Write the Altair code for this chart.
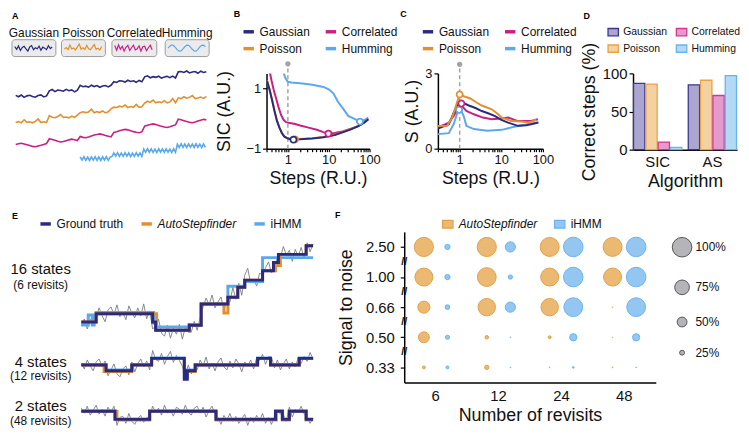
import altair as alt
import pandas as pd

FONT = "Liberation Sans"
NAVY = "#2b2a7f"
ORANGE = "#e2902e"
MAGENTA = "#cb1f85"
LBLUE = "#5aa8ee"
NOISE_GRAY = "#7c7c7c"
DASH_GRAY = "#a3a3a3"

SERIES = ["Gaussian", "Poisson", "Correlated", "Humming"]
SERIES_COLORS = [NAVY, ORANGE, MAGENTA, LBLUE]


def letter(ch, dx, dy):
    """Panel letter drawn as a text mark, offset in pixels from the plot origin."""
    return alt.Chart(pd.DataFrame({"letter": [ch]})).mark_text(
        fontSize=9, fontWeight="bold", align="left", baseline="middle", color="#000000"
    ).encode(text="letter:N", x=alt.value(dx), y=alt.value(dy))


# ---------------- Panel A : example traces ----------------
a_edges = [7, 41, 76, 110, 144, 179, 213]
a_gauss_levels = [70, 75.7, 80, 85, 89.3, 94.3]
a_pois_levels = [44, 49, 54, 59.3, 64, 68.3]
a_corr_levels = [20.7, 25, 30, 35, 40, 45]
a_humm_levels = [7, 11, 15, 20]
a_gauss_noise = [0.8, -0.6, 1.1, -1.2, 0.3, 0.9, -0.4, -1.0, 0.6, 1.3,
                 -0.8, 0.2, -0.3, 1.0, -1.1, 0.5, 0.0, -0.7, 1.2, -0.2,
                 0.6, -1.3, 0.4, 0.9, -0.5, 0.1, -0.9, 1.1, -0.3, 0.7,
                 -1.0, 0.2, 0.8, -0.6, 1.0, -0.4, -1.2, 0.5, 0.3, -0.8,
                 1.1, -0.1, 0.6, -1.0, 0.9, -0.5, 0.2, 1.2, -0.7, 0.4,
                 -0.3, 0.8, -1.1, 0.0, 0.7, -0.6, 1.0, -0.9, 0.3, 0.5,
                 -0.4, 1.1, -0.8, 0.2, 0.6, -1.2, 0.9, -0.3, 0.4]
a_pois_noise = [-0.5, 0.3, -0.8, 2.2, -0.4, 0.1, -0.9, 0.6, 3.0, -0.6,
                0.2, -0.7, 1.4, -0.3, -0.8, 0.5, 2.5, -0.5, 0.0, -0.9,
                0.8, -0.4, 1.9, -0.7, 0.3, -0.6, 0.1, 2.8, -0.8, 0.4,
                -0.5, 1.2, -0.9, 0.2, 3.2, -0.4, -0.7, 0.6, -0.2, 1.7,
                -0.8, 0.3, -0.5, 2.4, -0.6, 0.1, -0.9, 0.9, -0.3, 2.0,
                -0.7, 0.4, -0.5, 1.5, -0.8, 0.2, 3.5, -0.6, 0.0, -0.9,
                1.1, -0.4, 0.5, 2.3, -0.7, -0.2, 0.8, -0.5, 1.6]
a_corr_noise = [0.5, 1.2, 1.8, 1.0, 0.2, -0.6, -1.4, -1.8, -1.0, -0.3,
                0.6, 1.5, 2.0, 1.3, 0.4, -0.5, -1.2, -0.8, 0.1, 0.9,
                1.6, 1.1, 0.2, -0.7, -1.6, -2.0, -1.2, -0.2, 0.7, 1.4,
                1.9, 1.2, 0.3, -0.4, -1.1, -1.7, -1.0, 0.0, 0.8, 1.5,
                1.0, 0.1, -0.8, -1.5, -1.9, -1.1, -0.3, 0.6, 1.3, 2.0,
                1.4, 0.5, -0.4, -1.2, -1.6, -0.9, 0.1, 1.0, 1.7, 1.2,
                0.3, -0.6, -1.3, -1.8, -1.0, -0.1, 0.8, 1.6, 1.1]
a_humm_noise = [1.8, -1.6, 1.9, -1.8, 1.5, -1.9, 1.7, -1.5, 2.0, -1.7,
                1.6, -1.9, 1.8, -1.6, 1.9, -1.8, 1.5, -2.0, 1.7, -1.6,
                1.9, -1.7, 1.6, -1.8, 2.0, -1.5, 1.8, -1.9, 1.6, -1.7,
                1.9, -1.6, 1.7, -1.9, 1.5, -1.8, 2.0, -1.6, 1.8, -1.7,
                1.6, -1.9, 1.9, -1.5, 1.7, -1.8, 1.8, -1.6, 1.5, -2.0,
                1.9, -1.7, 1.6, -1.8, 2.0, -1.6, 1.7, -1.9, 1.8, -1.5,
                1.6, -1.8, 1.9, -1.7, 1.5, -1.9, 1.8, -1.6]
# small legend boxes above the traces (panel-A coordinates)
a_box_x0 = [3, 56, 110, 167]
a_box_x1 = [50, 103, 158, 214]
a_box_top = [127, 127, 127, 127]
a_box_bottom = [110, 110, 110, 110]
a_box_label_y = [134, 134, 134, 134]
a_box_mid = [118.5, 118.5, 118.5, 118.5]
a_box_noise = {
    "Gaussian": [1.5, -1.2, 2.2, -2.4, 0.6, 1.8, -0.8, -3.0, 1.2, 2.6, -1.6,
                 0.4, -0.6, 2.0, -2.2, 1.0, 0.0, -1.4, 2.4, -0.4, 1.2],
    "Poisson": [-1.0, 0.6, -1.6, 3.2, -0.8, 0.2, -1.8, 1.2, 4.0, -1.2, 0.4,
                -1.4, 2.8, -0.6, -1.6, 1.0, 3.6, -1.0, 0.0, -1.8, 1.6],
    "Correlated": [2.6, -2.2, 3.2, -1.2, 1.8, -3.0, 0.8, 2.8, -2.4, 0.4, 3.0,
                   -1.8, -0.6, 2.4, -3.0, 1.4, 2.0, -2.6, 0.4, 3.0, -1.6],
    "Humming": [0.0, 2.0, 3.2, 2.6, 0.4, -1.8, -3.0, -2.8, -0.8, 1.4, 3.0,
                2.8, 1.0, -1.2, -2.8, -3.0, -1.2, 1.2, 2.8, 3.0, 1.2],
}


def a_trace(name, levels, first_seg, noise, x0, dx):
    rows = []
    for i, n in enumerate(noise):
        x = x0 + dx * i
        k = first_seg
        while k < len(a_edges) - 2 and x >= a_edges[k + 1]:
            k += 1
        rows.append({"series": name, "x": x, "y": levels[k - first_seg] + n, "i": i})
    return rows


a_rows = (a_trace("Humming", a_humm_levels, 2, a_humm_noise, 76, 2)
          + a_trace("Correlated", a_corr_levels, 0, a_corr_noise, 7, 3)
          + a_trace("Poisson", a_pois_levels, 0, a_pois_noise, 7, 3)
          + a_trace("Gaussian", a_gauss_levels, 0, a_gauss_noise, 7, 3))
a_df = pd.DataFrame(a_rows)

box_df = pd.DataFrame({"series": SERIES, "x0": a_box_x0, "x1": a_box_x1,
                       "top": a_box_top, "bottom": a_box_bottom,
                       "ly": a_box_label_y,
                       "cx": [(a + b) / 2 for a, b in zip(a_box_x0, a_box_x1)]})
box_rows = []
for s, x0, mid in zip(SERIES, a_box_x0, a_box_mid):
    for i, v in enumerate(a_box_noise[s]):
        box_rows.append({"series": s, "x": x0 + 3 + 2 * i, "y": mid + v, "i": i})
box_trace_df = pd.DataFrame(box_rows)

A_XS = alt.Scale(domain=[3, 215], nice=False, zero=False)
A_YS = alt.Scale(domain=[7, 93], nice=False, zero=False)
ax = alt.X("x:Q", scale=A_XS, axis=None)
ay = alt.Y("y:Q", scale=A_YS, axis=None)
a_stroke = alt.Stroke("series:N", scale=alt.Scale(domain=SERIES, range=SERIES_COLORS), legend=None)

a_main = alt.Chart(a_df).mark_line(strokeWidth=1.6, clip=False).encode(
    x=ax, y=ay, stroke=a_stroke, detail="series:N", order="i:Q")
a_rect = alt.Chart(box_df).mark_rect(fill="#ebebeb", stroke="#9b9b9b", strokeWidth=1,
                                     cornerRadius=3, clip=False).encode(
    x=alt.X("x0:Q", scale=A_XS, axis=None), x2="x1:Q",
    y=alt.Y("bottom:Q", scale=A_YS, axis=None), y2="top:Q")
a_mini = alt.Chart(box_trace_df).mark_line(strokeWidth=1.2, clip=False).encode(
    x=ax, y=ay, stroke=a_stroke, detail="series:N", order="i:Q")
a_lab = alt.Chart(box_df).mark_text(fontSize=12, align="center", baseline="middle",
                                    color="#111111").encode(
    x=alt.X("cx:Q", scale=A_XS, axis=None),
    y=alt.Y("ly:Q", scale=A_YS, axis=None),
    text="series:N")
panel_a = alt.layer(a_rect, a_mini, a_lab, a_main, letter("A", 0, -58)).properties(
    width=200, height=86)

# ---------------- Panel B : SIC ----------------
b_gauss_x = [0.31, 0.36, 0.41, 0.47, 0.54, 0.62, 0.71, 0.82, 0.95, 1.1, 1.37, 2, 4, 7.4, 14, 22.7, 35, 53, 75, 93]
b_gauss_y = [1.24, 0.93, 0.61, 0.25, -0.08, -0.3, -0.48, -0.6, -0.65, -0.68, -0.7, -0.69, -0.66, -0.62, -0.55, -0.45, -0.36, -0.25, -0.13, -0.02]
b_pois_x = [0.31, 0.36, 0.41, 0.47, 0.54, 0.62, 0.71, 0.82, 0.95, 1.1, 1.5, 2, 4, 7.4, 14, 22.7, 35, 53, 75, 93]
b_pois_y = [1.26, 0.95, 0.63, 0.27, -0.06, -0.29, -0.47, -0.59, -0.64, -0.67, -0.69, -0.68, -0.65, -0.61, -0.54, -0.44, -0.35, -0.24, -0.12, -0.01]
b_corr_x = [0.36, 0.4, 0.45, 0.52, 0.59, 0.68, 0.79, 0.9, 1.04, 1.5, 2.0, 3.2, 5.1, 7.4, 9.8, 14, 22.7, 35, 53, 75, 93]
b_corr_y = [1.55, 1.25, 0.95, 0.65, 0.38, 0.12, -0.05, -0.12, -0.14, -0.18, -0.23, -0.3, -0.37, -0.45, -0.5, -0.48, -0.42, -0.34, -0.25, -0.13, -0.02]
b_humm_x = [0.79, 0.88, 1.0, 1.2, 2, 4, 7.4, 10, 13, 17, 22.7, 30, 44, 58, 75, 93]
b_humm_y = [1.5, 1.33, 1.22, 1.2, 1.17, 1.12, 1.05, 0.97, 0.84, 0.55, 0.32, 0.09, -0.02, -0.1, -0.05, 0.03]
b_mark_series = ["Poisson", "Gaussian", "Correlated", "Humming"]
b_mark_x = [1.5, 1.37, 9.8, 58]
b_mark_y = [-0.69, -0.7, -0.5, -0.1]
b_guide_x = [1]
b_guide_bottom = [-1]
b_guide_top = [1.82]

# ---------------- Panel C : S ----------------
c_gauss_x = [0.3, 0.55, 0.72, 0.9, 1.1, 1.6, 2.4, 3.4, 5, 7.1, 10, 14.6, 25, 40, 52, 76]
c_gauss_y = [0.8, 0.97, 1.43, 1.75, 1.86, 1.73, 1.62, 1.5, 1.4, 1.3, 1.15, 1.04, 0.91, 0.93, 0.97, 1.04]
c_pois_x = [0.3, 0.5, 0.66, 0.86, 1.0, 1.25, 1.8, 2.5, 3.4, 5.9, 8, 10.2, 17.6, 30, 44, 60, 69]
c_pois_y = [0.9, 0.91, 1.24, 1.83, 2.16, 2.09, 2.0, 1.85, 1.72, 1.57, 1.4, 1.24, 1.1, 1.08, 1.04, 1.1, 1.17]
c_corr_x = [0.3, 0.55, 0.72, 0.9, 1.05, 1.2, 1.45, 2.2, 3.6, 5.9, 10, 14.6, 25, 52, 76]
c_corr_y = [0.85, 1.04, 1.3, 1.6, 1.8, 1.65, 1.5, 1.37, 1.24, 1.17, 1.2, 1.24, 1.1, 1.1, 1.17]
c_humm_x = [0.3, 0.55, 0.72, 0.85, 0.97, 1.1, 1.25, 1.45, 2.2, 4.6, 10.2, 22, 44, 80]
c_humm_y = [0.58, 0.62, 0.98, 1.35, 1.57, 1.5, 1.3, 0.91, 0.78, 0.71, 0.75, 0.88, 0.97, 1.04]
c_mark_series = ["Humming", "Correlated", "Poisson"]
c_mark_x = [0.97, 1.1, 1.0]
c_mark_y = [1.55, 1.8, 2.16]
c_guide_x = [1]
c_guide_bottom = [0]
c_guide_top = [3.36]

LOG_TICKS = [0.3, 0.4, 0.5, 0.6, 0.7, 0.8, 0.9, 1, 2, 3, 4, 5, 6, 7, 8, 9,
             10, 20, 30, 40, 50, 60, 70, 80, 90, 100]


def curve_df(spec):
    rows = []
    for name, xs, ys in spec:
        for x, y in zip(xs, ys):
            rows.append({"series": name, "x": x, "y": y})
    return pd.DataFrame(rows)


def curve_panel(letter_ch, letter_dx, spec, mk_series, mk_x, mk_y, g_x, g_bot, g_top,
                ydomain, yvalues, ytitle, width, legend_x, ytitle_pad):
    df = curve_df(spec)
    xenc = alt.X("x:Q", scale=alt.Scale(type="log", domain=[0.3, 100], nice=False),
                 axis=alt.Axis(values=LOG_TICKS, title="Steps (R.U.)",
                               labelExpr="(datum.value == 1 || datum.value == 10 || datum.value == 100) ? datum.label : ''",
                               labelFontSize=13, titleFontSize=18, tickSize=3,
                               labelPadding=2, titlePadding=3, labelFlush=False))
    yenc = alt.Y("y:Q", scale=alt.Scale(domain=ydomain, nice=False),
                 axis=alt.Axis(values=yvalues, title=ytitle, labelFontSize=13,
                               titleFontSize=18, tickSize=4, labelPadding=2,
                               titlePadding=ytitle_pad))
    sscale = alt.Scale(domain=SERIES, range=SERIES_COLORS)
    legend = alt.Legend(title=None, orient="none", legendX=legend_x, legendY=-49,
                        columns=2, columnPadding=8, rowPadding=3,
                        symbolType="stroke", symbolStrokeWidth=3.5, symbolSize=110,
                        labelFontSize=12, labelOffset=4)
    guide_df = pd.DataFrame({"x": g_x, "y": g_bot, "y2": g_top})
    rule = alt.Chart(guide_df).mark_rule(strokeDash=[4, 3], color=DASH_GRAY,
                                         strokeWidth=1.5, clip=False).encode(
        x=xenc, y=yenc, y2="y2:Q")
    dot = alt.Chart(guide_df).mark_circle(size=28, color=DASH_GRAY, opacity=1,
                                          clip=False).encode(x=xenc, y="y2:Q")
    lines = alt.Chart(df).mark_line(strokeWidth=2, clip=True).encode(
        x=xenc, y=yenc,
        stroke=alt.Stroke("series:N", scale=sscale, legend=legend))
    mk_df = pd.DataFrame({"series": mk_series, "x": mk_x, "y": mk_y})
    pts = alt.Chart(mk_df).mark_point(shape="circle", fill="white", fillOpacity=1,
                                      opacity=1, strokeWidth=1.8, size=38).encode(
        x=xenc, y=yenc,
        stroke=alt.Stroke("series:N", scale=sscale, legend=None))
    return alt.layer(rule, dot, lines, pts, letter(letter_ch, letter_dx, -60)).properties(
        width=width, height=76)


panel_b = curve_panel(
    "B", -33,
    [("Humming", b_humm_x, b_humm_y), ("Correlated", b_corr_x, b_corr_y),
     ("Poisson", b_pois_x, b_pois_y), ("Gaussian", b_gauss_x, b_gauss_y)],
    b_mark_series, b_mark_x, b_mark_y, b_guide_x, b_guide_bottom, b_guide_top,
    [-1, 1.5], [-1, 0, 1], "SIC (A.U.)", 104, -25, 13)

panel_c = curve_panel(
    "C", -38,
    [("Humming", c_humm_x, c_humm_y), ("Correlated", c_corr_x, c_corr_y),
     ("Gaussian", c_gauss_x, c_gauss_y), ("Poisson", c_pois_x, c_pois_y)],
    c_mark_series, c_mark_x, c_mark_y, c_guide_x, c_guide_bottom, c_guide_top,
    [0, 3], [0, 1, 2, 3], "S (A.U.)", 106, -17, 3)

# ---------------- Panel D : correct steps ----------------
d_algs = ["SIC", "AS"]
d_sic = [87, 86, 10, 3]
d_as = [85, 91, 71, 97]
D_FILL = ["#aaa6d0", "#f3d2a0", "#e49bcb", "#b2daf4"]      # SERIES order
D_STROKE = ["#3c378f", "#e9a24a", "#d2368f", "#68b2ee"]    # SERIES order

d_rows = []
for alg, vals in zip(d_algs, [d_sic, d_as]):
    for s, v in zip(SERIES, vals):
        d_rows.append({"alg": alg, "series": s, "value": v})
d_df = pd.DataFrame(d_rows)
d_legend = alt.Legend(title=None, orient="none", legendX=-26, legendY=-48,
                      columns=2, columnPadding=6, rowPadding=3,
                      symbolType="M -1 -0.7 H 1 V 0.7 H -1 Z", symbolSize=110,
                      symbolStrokeWidth=1.3, labelFontSize=10.5, labelOffset=4)
d_bars = alt.Chart(d_df).mark_bar(strokeWidth=1.3).encode(
    x=alt.X("alg:N", sort=d_algs, scale=alt.Scale(paddingInner=0.1, paddingOuter=0),
            axis=alt.Axis(title="Algorithm", labelAngle=0, ticks=False, labelFontSize=15,
                          titleFontSize=18, labelPadding=5, titlePadding=3)),
    xOffset=alt.XOffset("series:N", sort=SERIES,
                        scale=alt.Scale(paddingInner=0.08, paddingOuter=0.04)),
    y=alt.Y("value:Q", scale=alt.Scale(domain=[0, 100], nice=False),
            axis=alt.Axis(values=[0, 50, 100], title="Correct steps (%)", labelFontSize=15,
                          titleFontSize=18, tickSize=4, labelPadding=2, titlePadding=4)),
    fill=alt.Fill("series:N", scale=alt.Scale(domain=SERIES, range=D_FILL), legend=d_legend),
    stroke=alt.Stroke("series:N", scale=alt.Scale(domain=SERIES, range=D_STROKE), legend=d_legend),
)
panel_d = alt.layer(d_bars, letter("D", -50, -58)).properties(width=105, height=77)

# ---------------- Panel E : example fits ----------------
E_METHODS = ["Ground truth", "AutoStepfinder", "iHMM"]
E_COLORS = [NAVY, ORANGE, LBLUE]
e_start_t = -70
e_end_t = 234

e_top_gt_t = [0, 15, 72, 75, 109, 121, 148, 158, 165, 183, 194, 199, 227]
e_top_gt_y = [115, 123.3, 115, 106.7, 111.7, 133.3, 140, 150, 157.3, 166.7, 175, 183.3, 192]
e_top_as_t = [0, 15, 76, 109, 121, 144, 148, 158, 165, 183, 196, 201, 227]
e_top_as_y = [115, 123.3, 106.7, 111.7, 133.3, 124, 140, 150, 157.3, 166.7, 172, 183.3, 192]
e_top_hmm_t = [0, 7, 11, 13, 15, 73, 76, 109, 121, 148, 165, 183]
e_top_hmm_y = [112, 122, 112, 122, 124.5, 114, 110, 112.5, 133.3, 151, 156, 180]

e_mid_gt_t = [0, 25, 51, 71, 104, 107, 115, 178, 191, 220]
e_mid_gt_y = [71.7, 65.7, 71.7, 78.3, 57.3, 65.7, 71.7, 78.3, 71.7, 78.3]
e_mid_as_t = [0, 23, 51, 71, 104, 115, 178, 191, 220]
e_mid_as_y = [71.7, 65.0, 71.7, 78.3, 65.0, 71.7, 78.3, 71.7, 78.3]
e_mid_hmm_t = [0, 25, 51, 71, 104, 107, 115, 178, 191, 220]
e_mid_hmm_y = [72.2, 66.5, 72.2, 78.8, 59.0, 66.5, 72.2, 78.8, 72.2, 78.8]

e_bot_gt_t = [0, 34, 69, 136, 196, 203, 210, 227]
e_bot_gt_y = [25, 16.7, 25, 16.7, 25, 16.7, 25, 16.7]
e_bot_as_t = [0, 36, 69, 136, 197, 203, 210, 227]
e_bot_as_y = [25, 16.0, 25, 16.0, 25, 16.0, 25, 16.0]
e_bot_hmm_t = [0, 34, 69, 136, 196, 203, 210, 227]
e_bot_hmm_y = [25.3, 17.2, 25.3, 17.2, 25.3, 17.2, 25.3, 17.2]

e_top_noise = [-4, 3, -7, 2, 5, -3, 6, -2, -8, 4,
               7, -1, 9, -3, 2, -6, 8, 1, -4, 6,
               -2, 10, -5, 3, -7, 4, 11, -3, -6, 5,
               -8, 2, -4, 6, -9, 3, -2, -7, 4, -5,
               8, -3, 6, -1, 9, -4, 2, 7, -6, 3,
               -5, 10, -2, 4, -8, 5, 12, -3, 1, -6,
               7, -4, 3, 9, -2, -5, 6, -3, 8, -1,
               4, -7, 5, -2, 7, -4, 3, -6, 2]
e_mid_noise = [2, -4, 5, -1, -6, 3, 6, -2, 4, -5,
               1, 7, -3, -6, 2, 5, -4, 3, -7, 1,
               6, -2, 4, -5, 8, -1, -3, 5, -6, 2,
               7, -4, 3, -2, -8, 4, 6, -3, 1, -5,
               5, -1, 8, -4, 2, -6, 3, 7, -2, -5,
               4, -3, 6, 1, -7, 3, -1, 5, -4, 7,
               -2, 4, -6, 2, 8, -3, 5, -5, 1, 6,
               -4, 3, -2, 7, -5, 2, -3, 6, -1]
e_bot_noise = [3, -2, 5, -4, 1, 6, -3, 2, -5, 4,
               -1, 5, -6, 2, 3, -4, 6, -2, -5, 1,
               4, -3, 2, -6, 5, -1, 3, -4, 6, -2,
               1, -5, 4, 2, -3, 6, -1, -4, 3, 5,
               -2, 4, -6, 1, 5, -3, 2, -5, 4, -1,
               6, -2, 3, -4, 1, 5, -6, 2, -3, 4,
               -1, 6, -4, 2, -5, 3, 1, -3, 5, -2,
               4, -6, 2, -1, 5, -3, 3, -4, 1]

e_state_labels = ["16 states", "4 states", "2 states"]
e_state_y = [168, 75, 30]
e_revisit_labels = ["(6 revisits)", "(12 revisits)", "(48 revisits)"]
e_revisit_y = [152.5, 60, 15]
e_label_t = [-41, -41, -41]


def seg_level(ts, ys, t):
    lvl = ys[0]
    for s, y in zip(ts, ys):
        if t >= s:
            lvl = y
    return lvl


e_traces = [
    ("top", (e_top_gt_t, e_top_gt_y), (e_top_as_t, e_top_as_y), (e_top_hmm_t, e_top_hmm_y), e_top_noise),
    ("mid", (e_mid_gt_t, e_mid_gt_y), (e_mid_as_t, e_mid_as_y), (e_mid_hmm_t, e_mid_hmm_y), e_mid_noise),
    ("bot", (e_bot_gt_t, e_bot_gt_y), (e_bot_as_t, e_bot_as_y), (e_bot_hmm_t, e_bot_hmm_y), e_bot_noise),
]
noise_rows, step_rows = [], []
for name, gt, asf, hmm, noise in e_traces:
    for i, n in enumerate(noise):
        t = 3 * i
        noise_rows.append({"trace": name, "t": t, "y": seg_level(gt[0], gt[1], t) + n})
for method, idx in [("iHMM", 3), ("AutoStepfinder", 2), ("Ground truth", 1)]:
    for tr in e_traces:
        ts, ys = tr[idx]
        key = tr[0] + "_" + method
        for t, y in zip(ts, ys):
            step_rows.append({"key": key, "method": method, "t": t, "y": y})
        step_rows.append({"key": key, "method": method, "t": e_end_t, "y": ys[-1]})

ex = alt.X("t:Q", scale=alt.Scale(domain=[e_start_t, e_end_t], nice=False, zero=False), axis=None)
ey = alt.Y("y:Q", scale=alt.Scale(domain=[14, 206], nice=False, zero=False), axis=None)
e_noise = alt.Chart(pd.DataFrame(noise_rows)).mark_line(
    color=NOISE_GRAY, strokeWidth=0.9, clip=False).encode(x=ex, y=ey, detail="trace:N")
e_legend = alt.Legend(title=None, orient="none", legendX=27, legendY=-15,
                      direction="horizontal", columnPadding=10,
                      symbolType="stroke", symbolStrokeWidth=3.5, symbolSize=110,
                      labelFontSize=12, labelOffset=4,
                      labelFontStyle=alt.ExprRef("datum.label == 'AutoStepfinder' ? 'italic' : 'normal'"))
e_steps = alt.Chart(pd.DataFrame(step_rows)).mark_line(
    interpolate="step-after", strokeWidth=3, clip=False).encode(
    x=ex, y=ey,
    stroke=alt.Stroke("method:N", scale=alt.Scale(domain=E_METHODS, range=E_COLORS), legend=e_legend),
    detail="key:N")
e_lab1 = alt.Chart(pd.DataFrame({"label": e_state_labels, "y": e_state_y, "t": e_label_t})).mark_text(
    fontSize=15, align="center", baseline="middle", color="#111").encode(
    x=ex, y=ey, text="label:N")
e_lab2 = alt.Chart(pd.DataFrame({"label": e_revisit_labels, "y": e_revisit_y, "t": e_label_t})).mark_text(
    fontSize=12, align="center", baseline="middle", color="#111").encode(
    x=ex, y=ey, text="label:N")
panel_e = alt.layer(e_noise, e_steps, e_lab1, e_lab2, letter("E", 0, -16)).properties(
    width=304, height=192)

# ---------------- Panel F : bubble grid ----------------
f_revisits = ["6", "12", "24", "48"]
f_snr = ["2.50", "1.00", "0.66", "0.50", "0.33"]
F_ALGS = ["AutoStepfinder", "iHMM"]
f_as = [[98, 98, 97, 97],
        [92, 96, 92, 92],
        [62, 89, 89, 3],
        [56, 18, 15, 3],
        [15, 22, 4, 4]]
f_hmm = [[27, 52, 100, 100],
         [27, 22, 100, 100],
         [24, 52, 96, 96],
         [21, 4, 37, 37],
         [15, 4, 9, 4]]
f_size_legend_values = [100, 75, 50, 25]

f_rows = []
for si, snr in enumerate(f_snr):
    for ri, rev in enumerate(f_revisits):
        f_rows.append({"snr": snr, "rev": rev, "alg": "AutoStepfinder", "pct": f_as[si][ri]})
        f_rows.append({"snr": snr, "rev": rev, "alg": "iHMM", "pct": f_hmm[si][ri]})
f_df = pd.DataFrame(f_rows)

fx = alt.X("rev:N", sort=f_revisits,
           scale=alt.Scale(paddingInner=0.25, paddingOuter=0.125),
           axis=alt.Axis(title="Number of revisits", labelAngle=0, labelFontSize=15,
                         titleFontSize=18, ticks=False, labelPadding=6, titlePadding=3))
fy = alt.Y("snr:N", sort=f_snr, scale=alt.Scale(type="point", padding=0.5),
           axis=alt.Axis(title="Signal to noise", labelFontSize=15, titleFontSize=18,
                         tickSize=4, labelPadding=6, titlePadding=10))
f_cat_legend = alt.Legend(title=None, orient="none", legendX=38, legendY=-14,
                          direction="horizontal", columnPadding=14,
                          symbolType="M -1 -0.75 H 1 V 0.75 H -1 Z", symbolSize=110,
                          symbolStrokeWidth=1.2, labelFontSize=12, labelOffset=5,
                          labelFontStyle=alt.ExprRef("datum.label == 'AutoStepfinder' ? 'italic' : 'normal'"))
f_size_legend = alt.Legend(title=None, orient="none", legendX=270, legendY=5,
                           values=f_size_legend_values, labelExpr="datum.value + '%'",
                           symbolFillColor="#b4b4b9", symbolStrokeColor="#555555",
                           symbolStrokeWidth=1, symbolOpacity=1, symbolType="circle",
                           rowPadding=18, labelFontSize=12, labelOffset=3)
f_points = alt.Chart(f_df).mark_circle(opacity=1, strokeWidth=1).encode(
    x=fx,
    xOffset=alt.XOffset("alg:N", sort=F_ALGS),
    y=fy,
    size=alt.Size("pct:Q", scale=alt.Scale(type="pow", exponent=2, domain=[0, 100], range=[0, 390]),
                  legend=f_size_legend),
    fill=alt.Fill("alg:N", scale=alt.Scale(domain=F_ALGS, range=["#ebb971", "#93c7f2"]), legend=f_cat_legend),
    stroke=alt.Stroke("alg:N", scale=alt.Scale(domain=F_ALGS, range=["#e2a04b", "#6db2ee"]), legend=f_cat_legend),
)
f_breaks = pd.DataFrame({"snr": f_snr[:4], "mark": ["//"] * 4})
f_break_marks = alt.Chart(f_breaks).mark_text(fontSize=11, fontWeight="bold", dy=15,
                                              color="#111").encode(
    x=alt.value(0), y=fy, text="mark:N")
panel_f = alt.layer(f_points, f_break_marks, letter("F", -70, -17)).properties(
    width=254, height=152)

# ---------------- Layout ----------------
RES = dict(stroke="independent", fill="independent", size="independent",
           color="independent", xOffset="independent")

top = alt.concat(panel_a, panel_b, panel_c, panel_d, columns=4, spacing=2,
                 align="none").resolve_scale(**RES)
bottom = alt.concat(panel_e, panel_f, columns=2, spacing=16,
                    align="none").resolve_scale(**RES)

chart = alt.concat(top, bottom, columns=1, spacing=21, align="none").resolve_scale(**RES).properties(
    padding=0, background="white"
).configure(font=FONT).configure_view(stroke=None).configure_axis(
    grid=False, domainColor="#000000", domainWidth=1.5, tickColor="#000000",
    tickWidth=1.2, labelColor="#111111", titleColor="#111111",
    titleFontWeight="normal", labelFont=FONT, titleFont=FONT
).configure_legend(labelFont=FONT, labelColor="#111111", labelLimit=300)

chart.save("out.html", embed_options={"renderer": "svg", "actions": False})
